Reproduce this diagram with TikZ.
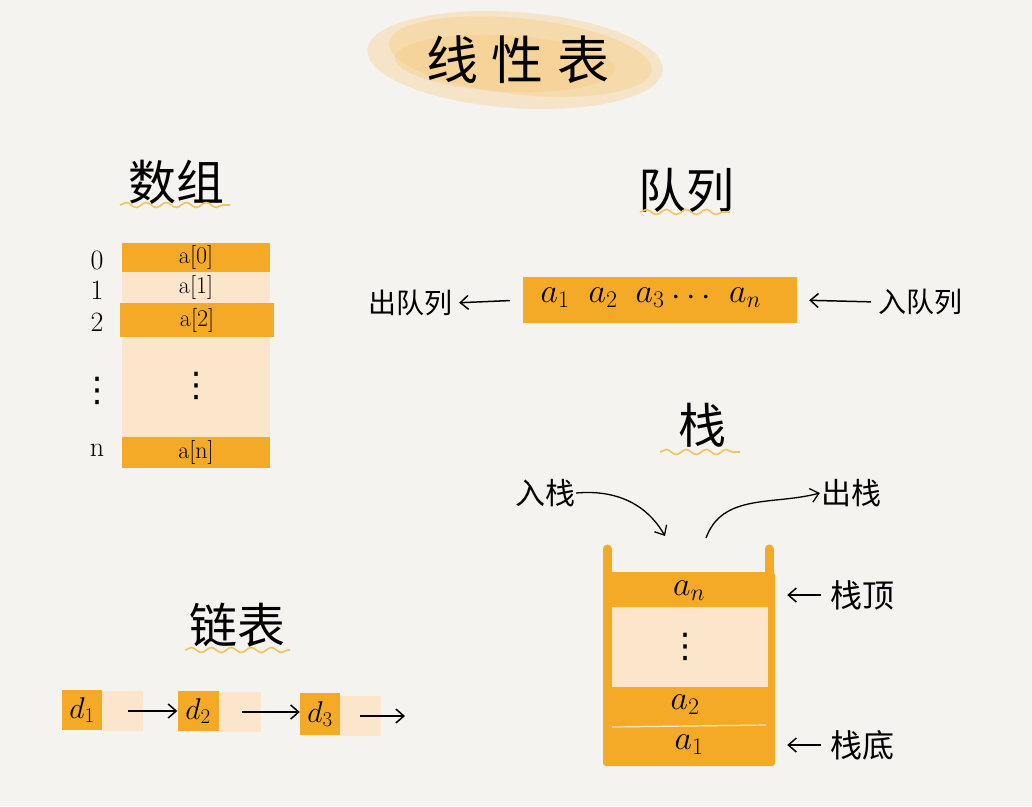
\RequirePackage{fix-cm}
\documentclass[tikz,border=0pt]{standalone}
\usepackage{fontspec}
\usepackage{amsmath}
\newfontfamily\cjk{Noto Sans CJK SC}
\newfontfamily\symfont{DejaVu Sans}
\usetikzlibrary{arrows.meta,decorations.pathmorphing}

\definecolor{paper}{HTML}{F5F3EF}
\definecolor{cellorange}{HTML}{F4AA26}
\definecolor{celllight}{HTML}{FBE6CB}
\definecolor{wavecolor}{HTML}{F0C35E}
\definecolor{blobcolor}{HTML}{F6C36E}

\tikzset{
  fullcell/.style={fill=cellorange, inner sep=0pt, font=\fontsize{24}{26}\selectfont},
  emptycell/.style={fill=celllight, inner sep=0pt, font=\fontsize{24}{26}\selectfont},
  heading/.style={font=\cjk\fontsize{48}{52}\selectfont},
  sidetext/.style={font=\cjk\fontsize{28}{30}\selectfont, inner sep=1pt},
  indextext/.style={font=\fontsize{28}{30}\selectfont},
  dotstext/.style={font=\symfont\fontsize{34}{36}\selectfont, inner sep=0pt},
  wavy/.style={draw=wavecolor, line width=1.6pt, decorate,
    decoration={snake, amplitude=2.5pt, segment length=20pt}},
  pointer/.style={-{Straight Barb[length=8pt,width=14pt]}, line width=1.5pt},
}

\begin{document}
\begin{tikzpicture}[x=1pt, y=-1pt]
  \path[use as bounding box, fill=paper] (0,0) rectangle (1032,806);

  % title
  \fill[blobcolor, opacity=0.3, rotate around={-4:(515,60)}] (515,60) ellipse [x radius=148, y radius=48];
  \fill[blobcolor, opacity=0.3, rotate around={-6:(515,60)}] (520,56) ellipse [x radius=132, y radius=38];
  \fill[blobcolor, opacity=0.3, rotate around={-3:(515,60)}] (505,64) ellipse [x radius=110, y radius=28];
  \node[font=\cjk\fontsize{52}{56}\selectfont] (title) at (518,60) {线\hspace{14pt}性\hspace{14pt}表};

  % array
  \node[heading] (arrhead) at (176,182) {数组};
  \draw[wavy] (120,205) -- (230,205);
  \node[fullcell, minimum width=148, minimum height=29] (a0) at (196,257.5) {a[0]};
  \node[emptycell, minimum width=148, minimum height=31] (a1) at (196,287.5) {a[1]};
  \node[fullcell, minimum width=154, minimum height=34] (a2) at (197,320) {a[2]};
  \node[emptycell, minimum width=148, minimum height=100] (adots) at (196,387) {};
  \node[dotstext] (adotstext) at (196,386) {⋮};
  \node[fullcell, minimum width=148, minimum height=31] (an) at (196,452.5) {a[n]};
  \node[indextext] (i0) at (97,260) {0};
  \node[indextext] (i1) at (97,290) {1};
  \node[indextext] (i2) at (97,322) {2};
  \node[dotstext] (idots) at (97,391) {⋮};
  \node[indextext] (in) at (97,450) {n};

  % queue
  \node[heading] (quehead) at (686,190) {队列};
  \draw[wavy] (640,212) -- (730,212);
  \node[fill=cellorange, minimum width=274, minimum height=46, inner sep=0pt] (queue) at (660,300) {};
  \foreach \x/\t in {555/a_1, 603/a_2, 650/a_3, 694/\cdots, 745/a_n}
    \node[font=\fontsize{34}{36}\selectfont] at (\x,298) {$\t$};
  \node[sidetext] (dequeue) at (410,303) {出队列};
  \node[sidetext] (enqueue) at (920,302) {入队列};
  \draw[pointer, shorten <=13pt, shorten >=6pt] (queue.west) -- (dequeue.east);
  \draw[pointer, shorten <=6pt, shorten >=12pt] (enqueue.west) -- (queue.east);

  % stack
  \node[heading] (stackhead) at (702,425) {栈};
  \draw[wavy] (660,452) -- (740,452);
  \draw[cellorange, line width=9pt, line cap=round] (607,549) -- (607,585);
  \draw[cellorange, line width=9pt, line cap=round] (769,549) -- (769,585);
  \fill[cellorange, rounded corners=3pt] (603,572) rectangle (775,766);
  \fill[celllight] (612,607) rectangle (768,687);
  \draw[celllight, line width=1.2pt] (612,727) -- (766,725);
  \node[font=\fontsize{34}{36}\selectfont, minimum width=172, minimum height=32, inner sep=0pt] (stn) at (689,591) {$a_n$};
  \node[dotstext] (stdots) at (685,647) {⋮};
  \node[font=\fontsize{34}{36}\selectfont] (st2) at (685,705) {$a_2$};
  \node[font=\fontsize{34}{36}\selectfont, minimum width=172, minimum height=38, inner sep=0pt] (st1) at (689,745) {$a_1$};
  \node[sidetext, font=\cjk\fontsize{32}{34}\selectfont] (top) at (862,595) {栈顶};
  \node[sidetext, font=\cjk\fontsize{32}{34}\selectfont] (bottom) at (862,745) {栈底};
  \draw[pointer, shorten <=8pt, shorten >=12pt] (top.west) -- (top.west -| stn.east);
  \draw[pointer, shorten <=8pt, shorten >=12pt] (bottom.west) -- (bottom.west -| st1.east);
  \node[sidetext, font=\cjk\fontsize{30}{32}\selectfont] (push) at (545,493) {入栈};
  \node[sidetext, font=\cjk\fontsize{30}{32}\selectfont] (pop) at (851,493) {出栈};
  \coordinate (pushend) at (665,536);
  \coordinate (popstart) at (706,538);
  \draw[pointer, line width=1.3pt] (push.east) to[out=5, in=120] (pushend);
  \draw[pointer, line width=1.3pt] (popstart) to[out=70, in=195] (pop.west);

  % linked list
  \node[heading] (listhead) at (237,625) {链表};
  \draw[wavy] (185,650) -- (290,650);
  \node[emptycell, minimum width=41, minimum height=40] (p1) at (122,711) {};
  \node[fullcell, font=\fontsize{30}{32}\selectfont, minimum width=40, minimum height=40] (d1) at (82,710) {$d_1$};
  \node[emptycell, minimum width=41, minimum height=40] (p2) at (240,712) {};
  \node[fullcell, font=\fontsize{30}{32}\selectfont, minimum width=41, minimum height=40] (d2) at (198,711) {$d_2$};
  \node[emptycell, minimum width=41, minimum height=40] (p3) at (360,716) {};
  \node[fullcell, font=\fontsize{30}{32}\selectfont, minimum width=40, minimum height=42] (d3) at (320,714) {$d_3$};
  \coordinate (tail) at (405,716);
  \draw[pointer, shorten <=6pt] (p1.center) -- (p1.center -| d2.west);
  \draw[pointer, shorten <=2pt] (p2.center) -- (p2.center -| d3.west);
  \draw[pointer] (p3.center) -- (tail);
\end{tikzpicture}
\end{document}
